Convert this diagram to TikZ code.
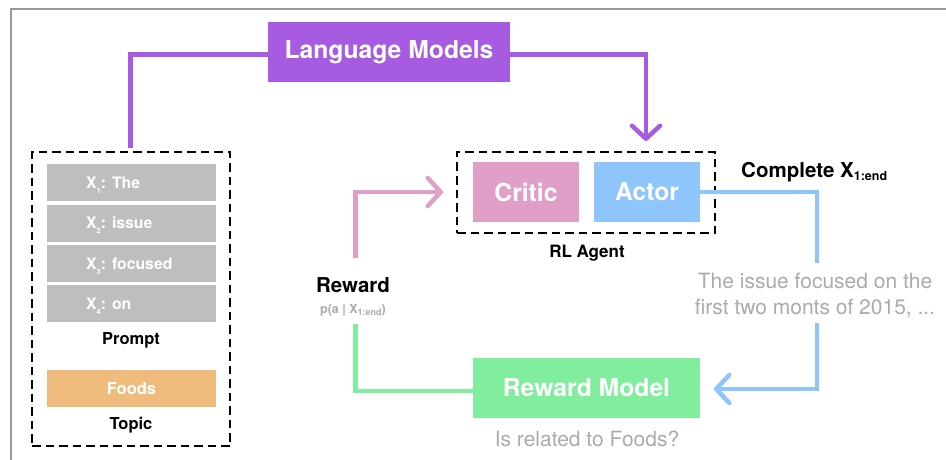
\documentclass[tikz,border=0pt]{standalone}
\usepackage{fontspec}
\setmainfont{TeX Gyre Heros}
\usetikzlibrary{arrows.meta}
\definecolor{lmpurple}{HTML}{A75BE0}
\definecolor{criticpink}{HTML}{E09FC6}
\definecolor{actorblue}{HTML}{8EC5FB}
\definecolor{rmgreen}{HTML}{80EE9C}
\definecolor{foodorange}{HTML}{F0BC7E}
\definecolor{tokgray}{HTML}{BEBEBE}
\definecolor{notegray}{HTML}{ABABAB}
\definecolor{framegray}{HTML}{999999}
\newcommand\tinysub[1]{\raisebox{-5pt}{\fontsize{7.5}{8}\selectfont #1}}
\begin{document}
\begin{tikzpicture}[x=1pt,y=-1pt,
  box/.style={draw=none, inner sep=0pt, text=white, font=\bfseries\fontsize{24.7}{28}\selectfont},
  tok/.style={fill=tokgray, minimum width=169pt, minimum height=37pt, inner sep=0pt},
  toktext/.style={text=white, font=\bfseries\fontsize{15.8}{18}\selectfont, anchor=base west, inner sep=0pt},
  dashbox/.style={draw=black, line width=1.3pt, dash pattern=on 8.5pt off 5pt, inner sep=0pt},
  conn/.style={line width=4.5pt},
  tip/.style={-{Straight Barb[length=13pt,width=28pt,round]}},
  lbl/.style={font=\bfseries\fontsize{16.5}{20}\selectfont, inner sep=0pt, anchor=base},
  note/.style={text=notegray, font=\fontsize{21}{26}\selectfont, inner sep=0pt, align=center}
]
\useasboundingbox (0,0) rectangle (946,460);
\fill[white] (0,0) rectangle (946,460);
\draw[framegray, line width=2pt] (11,461) -- (11,9.5) -- (947,9.5);

% Language models
\node[box, fill=lmpurple, minimum width=242pt, minimum height=60pt] (lm) at (389,52) {Language Models};

% Prompt group
\node[dashbox, minimum width=198pt, minimum height=294pt] (prompt) at (131,299) {};
\node[tok] (x1) at (131.5,182.5) {};
\node[tok] (x2) at (131.5,223) {};
\node[tok] (x3) at (131.5,263.5) {};
\node[tok] (x4) at (131.5,303.5) {};
\node[toktext] (t1) at (86,188) {X\tinysub{1}: The};
\node[toktext] (t2) at (86,228.5) {X\tinysub{2}: issue};
\node[toktext] (t3) at (86,269) {X\tinysub{3}: focused};
\node[toktext] (t4) at (86,309) {X\tinysub{4}: on};
\node[lbl] (promptlbl) at (131,344) {Prompt};
\node[tok, fill=foodorange, text=white, font=\bfseries\fontsize{16.5}{20}\selectfont] (foods) at (131.5,388.5) {Foods};
\node[lbl] (topic) at (131,429) {Topic};

% RL agent
\node[dashbox, minimum width=258pt, minimum height=81pt] (rl) at (586,192.5) {};
\node[box, fill=criticpink, minimum width=106pt, minimum height=60pt] (critic) at (526,192) {Critic};
\node[box, fill=actorblue, minimum width=106pt, minimum height=60pt] (actor) at (647,192) {Actor};
\node[lbl, font=\bfseries\fontsize{17}{20}\selectfont] (rllbl) at (587,257) {RL Agent};

\node[anchor=base west, inner sep=0pt, font=\bfseries\fontsize{20.5}{24}\selectfont] (complete) at (741,177) {Complete X\raisebox{-3.5pt}{\fontsize{12.5}{14}\selectfont 1:end}};
\node[note] (sentence) at (815,295) {The issue focused on the\\first two monts of 2015, ...};

% Reward
\node[lbl, font=\bfseries\fontsize{20.5}{24}\selectfont] (reward) at (353,292) {Reward};
\node[lbl, text=notegray, font=\bfseries\fontsize{12.5}{14}\selectfont] (prob) at (353,313) {p(a | X\raisebox{-2pt}{\fontsize{9}{10}\selectfont 1:end})};

% Reward model
\node[box, fill=rmgreen, minimum width=227pt, minimum height=60pt] (rm) at (586.5,388) {Reward Model};
\node[note, anchor=base] (question) at (587,446) {Is related to Foods?};

% connector end points
\coordinate (lmstart) at (130.5,148);
\coordinate (lmtip) at (646,141);
\coordinate (pinkstart) at (355.5,258);
\coordinate (pinktip) at (443,192);
\coordinate (greenstart) at (355.5,324);
\coordinate (bluebreak1) at (817,263);
\coordinate (bluebreak2) at (817,323);
\coordinate (bluetip) at (714,389);

% connectors
\draw[conn, lmpurple] (lmstart) |- ([yshift=-2.5pt]lm.west);
\draw[conn, lmpurple, tip] ([yshift=-2.5pt]lm.east) -| (lmtip);
\draw[conn, criticpink, tip] (pinkstart) |- (pinktip);
\draw[conn, rmgreen] (greenstart) |- ([yshift=-3pt]rm.west);
\draw[conn, actorblue] (actor.east) -| (bluebreak1);
\draw[conn, actorblue, tip] (bluebreak2) |- (bluetip);
\end{tikzpicture}
\end{document}
